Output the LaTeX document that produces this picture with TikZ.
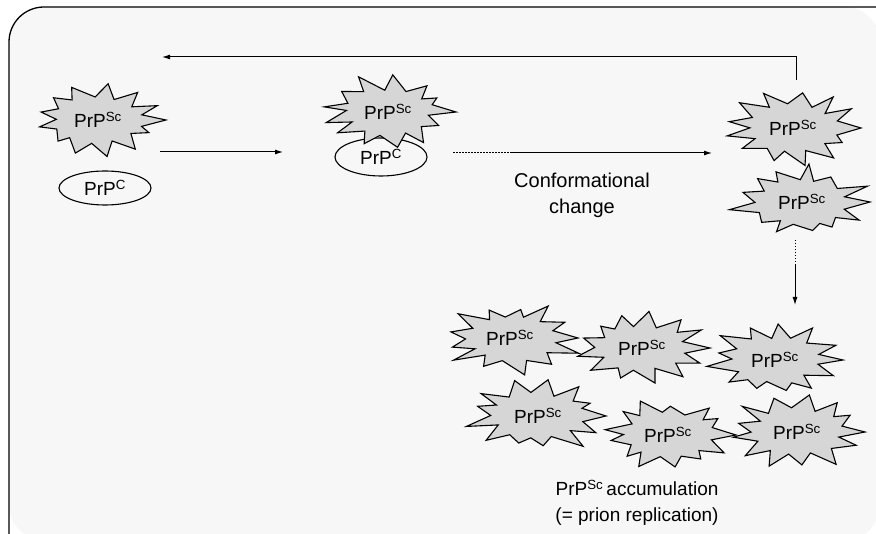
\documentclass[tikz,border=0pt]{standalone}
\usepackage{fontspec}
\setmainfont{Liberation Sans}
\usetikzlibrary{shapes.geometric,arrows.meta,calc}
\newcommand\prpburst[3]{% #1 name, #2 position, #3 seed
  \pgfmathsetseed{#3}%
  \coordinate (#1-c) at (#2);
  \draw[burstline] ($(#1-c)+(0:68 and 35)$)
    \foreach \k [evaluate=\k as \f using {isodd(\k) ? 0.6+0.1*rnd : 0.82+0.28*rnd},
                 evaluate=\k as \a using {\k*360/26+5*rand}] in {1,...,25}
      { -- ($(#1-c)+(\a:{68*\f} and {35*\f})$) } -- cycle;
  \node[prptext] (#1) at (#1-c) {PrP\textsuperscript{Sc}};
}
\begin{document}
\begin{tikzpicture}[x=1pt,y=-1pt,
  burstline/.style={draw=black, line width=1.1pt, fill=gray!32, line join=miter, miter limit=20},
  prptext/.style={inner sep=0pt, font=\fontsize{19}{22}\selectfont},
  prpc/.style={ellipse, draw=black, line width=1.1pt, fill=black!3,
    minimum width=92pt, minimum height=34pt, inner sep=0pt,
    font=\fontsize{19}{22}\selectfont},
  conn/.style={line width=1pt, -{Latex[length=8pt,width=5pt]}},
  dotline/.style={line width=1pt, dash pattern=on 1.5pt off 1.5pt},
  caption/.style={align=center, font=\fontsize{20}{26}\selectfont},
  frame/.style={line width=1.3pt, rounded corners=35pt}
]
\useasboundingbox (0,0) rectangle (876,534);
% frame and background
\fill[black!3, rounded corners=35pt] (9,540) |- (880,7) -- (880,540) -- cycle;
\draw[frame] (9,540) |- (880,7);

% first stage
\node[prpc] (c1) at (105,188) {PrP\textsuperscript{C}};
\prpburst{s1}{98,120}{11}

% second stage
\node[prpc, minimum height=38pt] (c2) at (381,157) {PrP\textsuperscript{C}};
\prpburst{s2}{388,112}{23}

% third stage
\prpburst{s3}{793,128}{37}
\prpburst{s4}{802,202}{41}

% accumulation cluster
\prpburst{ka}{510,338}{53}
\prpburst{kb}{642,348}{61}
\prpburst{kc}{775,360}{71}
\prpburst{kd}{538,416}{83}
\prpburst{ke}{668,435}{97}
\prpburst{kf}{797,432}{101}

% captions
\node[caption] (cc) at (582,195) {Conformational\\change};
\node[caption, font=\fontsize{19}{26}\selectfont] (acc) at (637,503)
  {PrP\textsuperscript{Sc}\,accumulation\\(= prion replication)};

% connectors
\coordinate (a1s) at (160,152);
\coordinate (a1e) at (283,152);
\draw[conn] (a1s) -- (a1e);

\coordinate (d0) at (453,153);
\coordinate (d1) at (512,153);
\coordinate (d2) at (712,153);
\draw[dotline] (d0) -- (d1);
\draw[conn] (d1) -- (d2);

\coordinate (t0) at (796,80);
\coordinate (t1) at (162,57);
\draw[conn] (t0) |- (t1);

\coordinate (v0) at (795,240);
\coordinate (v1) at (795,265);
\coordinate (v2) at (795,305);
\draw[dotline] (v0) -- (v1);
\draw[conn] (v1) -- (v2);
\end{tikzpicture}
\end{document}
